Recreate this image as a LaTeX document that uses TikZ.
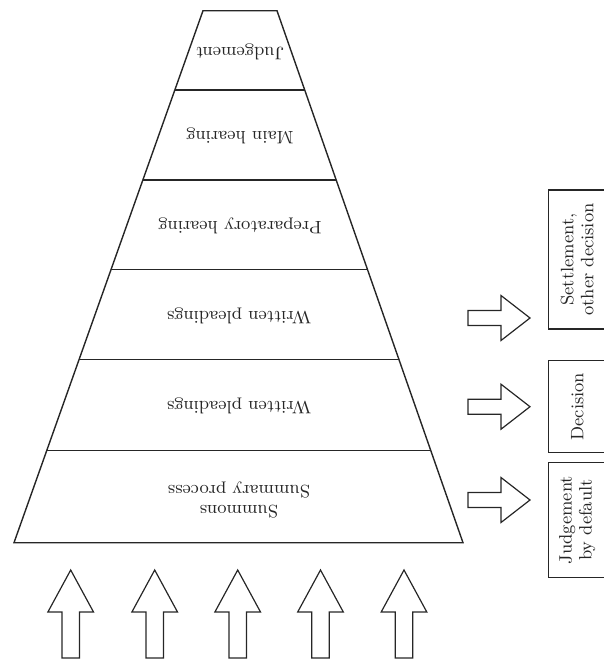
\documentclass[tikz,border=0pt]{standalone}
\usetikzlibrary{calc}
\begin{document}
\begin{tikzpicture}[x=0.5pt, y=-0.5pt,
		every node/.style={font=\fontsize{9}{10}\selectfont, text=black!85},
		edge/.style={draw=black!85, line width=0.7pt},
		stage/.style={rotate=180, align=center},
		outcome/.style={rectangle, draw=black!85, line width=0.7pt, rotate=90, align=center, minimum height=28.75pt, inner sep=0pt},
		blockarrow/.style={draw=black!85, line width=0.6pt, line join=miter},
		rarrow/.pic={\draw[blockarrow] (0,-7.5) -- (33,-7.5) -- (33,-22.5) -- (62,0) -- (33,22.5) -- (33,7.5) -- (0,7.5) -- cycle;},
		uarrow/.pic={\draw[blockarrow] (0,0) -- (22.8,42) -- (8.7,42) -- (8.7,88) -- (-8.7,88) -- (-8.7,42) -- (-22.8,42) -- cycle;}]
		\useasboundingbox (0,0) rectangle (604,665);
		\clip (0,0) rectangle (604,665);

		% pyramid outline
		\coordinate (topLeft) at (203,10.7);
		\coordinate (topRight) at (277,10.7);
		\coordinate (baseRight) at (463,542.7);
		\coordinate (baseLeft) at (14,542.7);
		\draw[edge] (topLeft) -- (topRight) -- (baseRight) -- (baseLeft) -- cycle;

		% draw stage borders
		\foreach \t in {0.149,0.318,0.487,0.656,0.827}
			\draw[edge] ($(topLeft)!\t!(baseLeft)$) -- ($(topRight)!\t!(baseRight)$);

		% stage labels
		\node[stage] (judgeRow) at (240,52) {Judgement};
		\node[stage] (mainRow) at (240,136) {Main hearing};
		\node[stage] (prepRow) at (240,226) {Preparatory hearing};
		\node[stage] (writtenTwoRow) at (239,316) {Written pleadings};
		\node[stage] (writtenOneRow) at (239,406) {Written pleadings};
		\node[stage] (summonsRow) at (239,500) {Summons\\Summary process};

		% outcome boxes
		\node[outcome, minimum width=69.5pt] (settleBox) at (577.25,259.5) {Settlement,\\other decision};
		\node[outcome, minimum width=46pt] (decisionBox) at (577.25,406.7) {Decision};
		\node[outcome, minimum width=57.5pt] (defaultBox) at (577.25,520) {Judgement\\by default};

		% draw side arrows
		\foreach \y in {318,406.7,500}
			\pic at (468,\y) {rarrow};

		% draw input arrows
		\foreach \x in {70.7,154.7,237.7,320.5,404}
			\pic at (\x,570) {uarrow};
	\end{tikzpicture}
\end{document}
